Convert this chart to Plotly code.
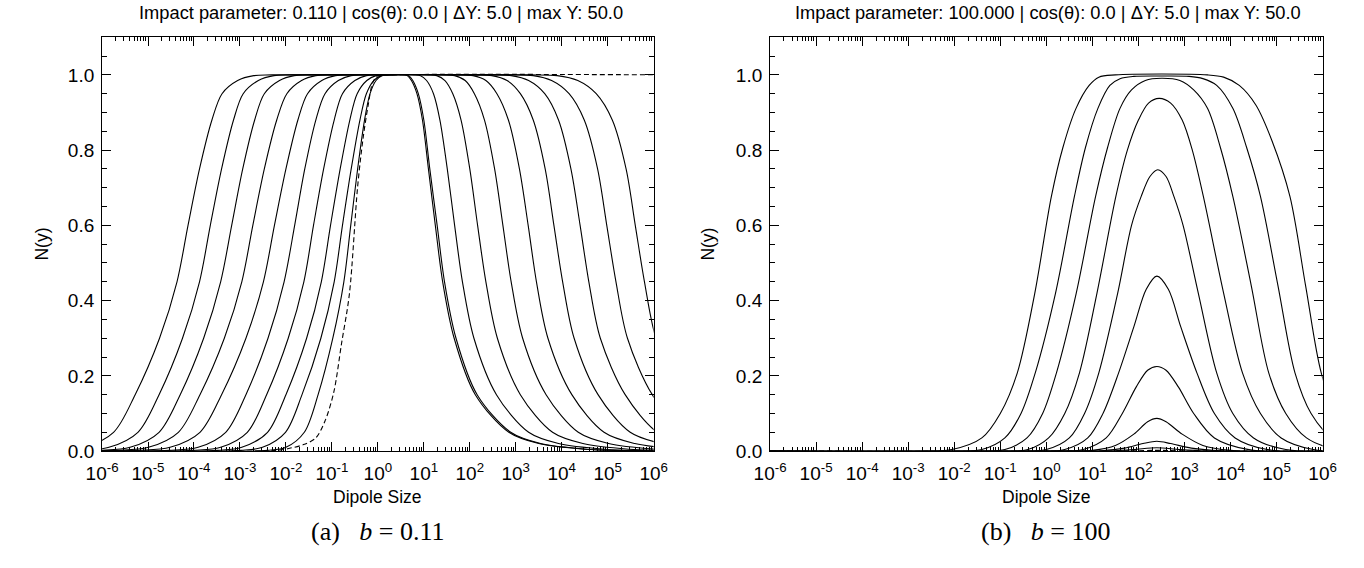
import plotly.graph_objects as go
from plotly.subplots import make_subplots

# ---------------- data ----------------
DECADES = list(range(-6, 7))
TICK_LABELS = [f"10<sup>{n}</sup>" for n in DECADES]
Y_TICKS = [0.0, 0.2, 0.4, 0.6, 0.8, 1.0]
Y_TICK_LABELS = ["0.0", "0.2", "0.4", "0.6", "0.8", "1.0"]

TITLE_A = "Impact parameter: 0.110 | cos(θ): 0.0 | ΔY: 5.0 | max Y: 50.0"
TITLE_B = "Impact parameter: 100.000 | cos(θ): 0.0 | ΔY: 5.0 | max Y: 50.0"
CAPTION_A = "(a)\u00a0\u00a0\u00a0<i>b</i> = 0.11"
CAPTION_B = "(b)\u00a0\u00a0\u00a0<i>b</i> = 100"

# Panel (a): N levels and log10(dipole size) where each curve crosses them
RISE_N = [0.0, 0.002, 0.01, 0.05, 0.15, 0.3, 0.45, 0.6, 0.75, 0.88, 0.95, 0.985, 0.998, 1.0]
FALL_N = [1.0, 0.998, 0.985, 0.95, 0.88, 0.75, 0.6, 0.45, 0.3, 0.15, 0.05, 0.02, 0.005, 0.001, 0.0]

A_RISE_LOGR = [
    [-8.0, -7.1, -6.40, -5.75, -5.28, -4.75, -4.37, -4.13, -3.88, -3.61, -3.39, -3.05, -2.70, -2.30],
    [-7.5, -6.53, -5.85, -5.22, -4.76, -4.25, -3.88, -3.645, -3.40, -3.14, -2.93, -2.60, -2.26, -1.88],
    [-7.0, -6.07, -5.39, -4.76, -4.30, -3.79, -3.42, -3.18, -2.94, -2.68, -2.47, -2.14, -1.82, -1.45],
    [-6.6, -5.69, -4.99, -4.34, -3.87, -3.34, -2.96, -2.72, -2.47, -2.20, -1.98, -1.66, -1.35, -1.00],
    [-6.5, -5.22, -4.52, -3.87, -3.40, -2.87, -2.49, -2.25, -2.00, -1.74, -1.53, -1.22, -0.92, -0.60],
    [-6.5, -4.55, -3.91, -3.31, -2.87, -2.39, -2.04, -1.81, -1.59, -1.35, -1.15, -0.86, -0.58, -0.30],
    [-6.5, -4.02, -3.42, -2.84, -2.42, -1.95, -1.61, -1.40, -1.18, -0.95, -0.77, -0.50, -0.25, 0.00],
    [-6.5, -3.48, -2.96, -2.40, -2.00, -1.55, -1.23, -1.03, -0.82, -0.61, -0.45, -0.24, -0.04, 0.20],
    [-6.5, -2.98, -2.51, -2.01, -1.65, -1.24, -0.95, -0.77, -0.58, -0.39, -0.25, -0.09, 0.07, 0.25],
    [-6.5, -2.40, -2.00, -1.60, -1.30, -0.98, -0.74, -0.59, -0.44, -0.29, -0.17, -0.04, 0.09, 0.28],
]
A_FALL_LOGR = [
    [3.30, 3.90, 4.35, 4.75, 5.10, 5.40, 5.60, 5.80, 6.05, 6.60, 7.30, 8.00, 9.00, 10.0, 11.0],
    [2.88, 3.38, 3.78, 4.16, 4.49, 4.78, 4.98, 5.18, 5.43, 5.97, 6.67, 7.36, 8.36, 9.4, 10.4],
    [2.50, 2.90, 3.28, 3.63, 3.93, 4.20, 4.40, 4.59, 4.84, 5.38, 6.08, 6.76, 7.76, 8.8, 9.8],
    [2.13, 2.48, 2.81, 3.10, 3.38, 3.64, 3.83, 4.02, 4.27, 4.79, 5.49, 6.17, 7.17, 8.2, 9.2],
    [1.77, 2.07, 2.35, 2.59, 2.84, 3.08, 3.27, 3.45, 3.70, 4.22, 4.92, 5.59, 6.59, 7.6, 8.6],
    [1.42, 1.67, 1.90, 2.10, 2.32, 2.54, 2.72, 2.90, 3.15, 3.66, 4.36, 5.02, 6.02, 7.0, 8.0],
    [1.08, 1.28, 1.46, 1.63, 1.81, 2.00, 2.17, 2.35, 2.60, 3.10, 3.80, 4.46, 5.46, 6.46, 7.5],
    [0.78, 0.93, 1.06, 1.21, 1.35, 1.51, 1.67, 1.84, 2.09, 2.58, 3.28, 3.93, 4.93, 5.93, 7.0],
    [0.58, 0.67, 0.76, 0.88, 1.00, 1.13, 1.29, 1.45, 1.70, 2.16, 2.89, 3.54, 4.54, 5.54, 6.6],
    [0.55, 0.64, 0.73, 0.85, 0.97, 1.10, 1.25, 1.41, 1.66, 2.12, 2.85, 3.50, 4.50, 5.50, 6.6],
]
# initial condition (dashed) of panel (a)
A_INIT_LOGR = [-6.5, -2.2, -1.9, -1.6, -1.35, -1.15, -0.96, -0.79, -0.62, -0.44, -0.32, -0.21, -0.11, 0.0, 0.2, 6.5]
A_INIT_N = [0.0, 0.002, 0.008, 0.018, 0.035, 0.08, 0.156, 0.286, 0.417, 0.703, 0.833, 0.92, 0.98, 0.998, 1.0, 1.0]

# Panel (b): each curve as (log10 r, N) points
B_LOGR = [
    [-6.5, -2.6, -2.05, -1.4, -1.0, -0.63, -0.25, 0.11, 0.36, 0.645, 0.93, 1.14, 1.5, 3.5, 3.85, 4.19, 4.55, 4.90, 5.29, 5.63, 5.97, 6.3, 6.8],
    [-6.5, -1.9, -1.4, -0.9, -0.55, -0.24, 0.20, 0.61, 0.85, 1.12, 1.38, 1.6, 1.9, 2.5, 3.1, 3.4, 3.7, 4.05, 4.35, 4.65, 5.03, 5.40, 5.75, 6.2, 6.8],
    [-6.5, -1.4, -0.9, -0.42, -0.08, 0.22, 0.65, 1.07, 1.33, 1.60, 1.85, 2.15, 2.5, 2.9, 3.2, 3.5, 3.78, 4.05, 4.45, 4.83, 5.2, 5.65, 6.3, 6.8],
    [-6.5, -0.9, -0.4, 0.05, 0.40, 0.72, 1.10, 1.51, 1.76, 2.0, 2.22, 2.45, 2.7, 2.95, 3.17, 3.41, 3.85, 4.26, 4.65, 5.1, 5.8, 6.5],
    [-6.5, -0.5, 0.0, 0.5, 0.83, 1.14, 1.55, 1.85, 2.06, 2.25, 2.42, 2.6, 2.77, 2.97, 3.3, 3.70, 4.05, 4.5, 5.2, 6.5],
    [-6.5, 0.0, 0.4, 0.9, 1.23, 1.57, 1.9, 2.17, 2.40, 2.65, 2.92, 3.27, 3.65, 4.1, 4.8, 6.5],
    [-6.5, 0.4, 0.8, 1.3, 1.65, 1.95, 2.2, 2.40, 2.6, 2.87, 3.2, 3.65, 4.4, 6.5],
    [-6.5, 0.6, 1.0, 1.5, 1.9, 2.2, 2.40, 2.6, 2.95, 3.4, 4.0, 6.5],
    [-6.5, 0.8, 1.2, 1.7, 2.1, 2.40, 2.7, 3.15, 3.8, 6.5],
    [-6.5, 1.0, 1.4, 1.9, 2.40, 2.9, 3.5, 6.5],
]
B_N = [
    [0.0, 0.0, 0.004, 0.035, 0.10, 0.208, 0.42, 0.677, 0.807, 0.911, 0.972, 0.994, 1.0, 1.0, 0.994, 0.972, 0.92, 0.825, 0.677, 0.44, 0.208, 0.10, 0.02],
    [0.0, 0.0, 0.004, 0.035, 0.10, 0.208, 0.42, 0.677, 0.807, 0.911, 0.972, 0.99, 0.996, 0.997, 0.996, 0.99, 0.972, 0.911, 0.807, 0.677, 0.44, 0.208, 0.10, 0.035, 0.005],
    [0.0, 0.0, 0.004, 0.035, 0.10, 0.208, 0.42, 0.677, 0.807, 0.911, 0.96, 0.985, 0.991, 0.985, 0.96, 0.911, 0.807, 0.677, 0.44, 0.208, 0.10, 0.035, 0.004, 0.0],
    [0.0, 0.0, 0.004, 0.035, 0.10, 0.208, 0.42, 0.677, 0.80, 0.88, 0.925, 0.9375, 0.925, 0.88, 0.80, 0.677, 0.42, 0.208, 0.10, 0.035, 0.004, 0.0],
    [0.0, 0.0, 0.004, 0.035, 0.10, 0.208, 0.42, 0.60, 0.677, 0.73, 0.748, 0.73, 0.677, 0.60, 0.42, 0.208, 0.10, 0.035, 0.004, 0.0],
    [0.0, 0.0, 0.004, 0.035, 0.10, 0.208, 0.33, 0.43, 0.465, 0.43, 0.33, 0.208, 0.10, 0.035, 0.004, 0.0],
    [0.0, 0.0, 0.004, 0.035, 0.10, 0.17, 0.215, 0.225, 0.215, 0.17, 0.10, 0.035, 0.004, 0.0],
    [0.0, 0.0, 0.002, 0.015, 0.045, 0.078, 0.087, 0.078, 0.045, 0.015, 0.002, 0.0],
    [0.0, 0.0, 0.001, 0.008, 0.02, 0.026, 0.02, 0.008, 0.001, 0.0],
    [0.0, 0.0, 0.0005, 0.004, 0.009, 0.004, 0.0005, 0.0],
]
B_INIT_LOGR = [-6.5, 1.8, 2.4, 3.0, 6.5]
B_INIT_N = [0.0, 0.0005, 0.002, 0.0005, 0.0]

# ---------------- figure ----------------
W, H = 1364, 568
fig = make_subplots(rows=1, cols=2)

LINE = dict(color="black", width=1.1, shape="spline", smoothing=0.9)
DASH = dict(color="black", width=1.1, shape="spline", smoothing=0.9, dash="5px,3px")

for rise, fall in zip(A_RISE_LOGR, A_FALL_LOGR):
    fig.add_trace(go.Scatter(x=[10 ** v for v in rise + fall], y=RISE_N + FALL_N,
                             mode="lines", line=LINE, showlegend=False, hoverinfo="skip"), row=1, col=1)
fig.add_trace(go.Scatter(x=[10 ** v for v in A_INIT_LOGR], y=A_INIT_N, mode="lines",
                         line=DASH, showlegend=False, hoverinfo="skip"), row=1, col=1)

for lr, nn in zip(B_LOGR, B_N):
    fig.add_trace(go.Scatter(x=[10 ** v for v in lr], y=nn, mode="lines", line=LINE,
                             showlegend=False, hoverinfo="skip"), row=1, col=2)
fig.add_trace(go.Scatter(x=[10 ** v for v in B_INIT_LOGR], y=B_INIT_N, mode="lines",
                         line=DASH, showlegend=False, hoverinfo="skip"), row=1, col=2)

SANS = "Liberation Sans, Arial, Helvetica, sans-serif"
TICKFONT = dict(family=SANS, size=19, color="black")

minor_x = [k * 10.0 ** n for n in range(-6, 6) for k in range(2, 10)]
minor_y = [0.05, 0.1, 0.15, 0.25, 0.3, 0.35, 0.45, 0.5, 0.55, 0.65, 0.7, 0.75, 0.85, 0.9, 0.95, 1.05]

xdomains = [[88 / W, 652 / W], [771 / W, 1336 / W]]
ydomain = [1 - 460 / H, 1 - 38 / H]

for i, name in enumerate(["xaxis", "xaxis2"]):
    fig.layout[name].update(
        type="log", range=[-6, 6], domain=xdomains[i],
        tickmode="array", tickvals=[10.0 ** n for n in DECADES], ticktext=TICK_LABELS,
        ticks="inside", ticklen=9, tickwidth=1, tickcolor="black", ticklabelstandoff=5,
        showline=True, linecolor="black", linewidth=1, mirror="ticks",
        showgrid=False, zeroline=False, tickfont=TICKFONT,
        minor=dict(tickmode="array", tickvals=minor_x, ticks="inside", ticklen=4,
                   tickwidth=1, tickcolor="black", showgrid=False),
    )
for name in ["yaxis", "yaxis2"]:
    fig.layout[name].update(
        range=[0, 1.1], domain=ydomain,
        tickmode="array", tickvals=Y_TICKS, ticktext=Y_TICK_LABELS,
        ticks="inside", ticklen=9, tickwidth=1, tickcolor="black", ticklabelstandoff=3,
        showline=True, linecolor="black", linewidth=1, mirror="ticks",
        showgrid=False, zeroline=False, tickfont=TICKFONT,
        minor=dict(tickmode="array", tickvals=minor_y, ticks="inside", ticklen=5,
                   tickwidth=1, tickcolor="black", showgrid=False),
    )

ann = []
def text(x, y, s, size=18, family=SANS, angle=0):
    ann.append(dict(x=x / W, y=1 - y / H, xref="paper", yref="paper", text=s, showarrow=False,
                    xanchor="center", yanchor="middle", textangle=angle,
                    font=dict(family=family, size=size, color="black")))

text(373, 13, TITLE_A, 18.3)
text(1055, 13, TITLE_B, 18.3)
text(27, 249, "N(y)", 17.5, angle=-90)
text(708, 249, "N(y)", 17.5, angle=-90)
text(370, 507, "Dipole Size", 17.5)
text(1053.5, 507, "Dipole Size", 17.5)
SERIF = "Liberation Serif, DejaVu Serif, serif"
text(370, 542, CAPTION_A, 26, SERIF)
text(1053, 542, CAPTION_B, 26, SERIF)

fig.update_layout(width=W, height=H, margin=dict(l=0, r=0, t=0, b=0),
                  paper_bgcolor="white", plot_bgcolor="white", annotations=ann,
                  showlegend=False)

fig.write_html("out.html")
